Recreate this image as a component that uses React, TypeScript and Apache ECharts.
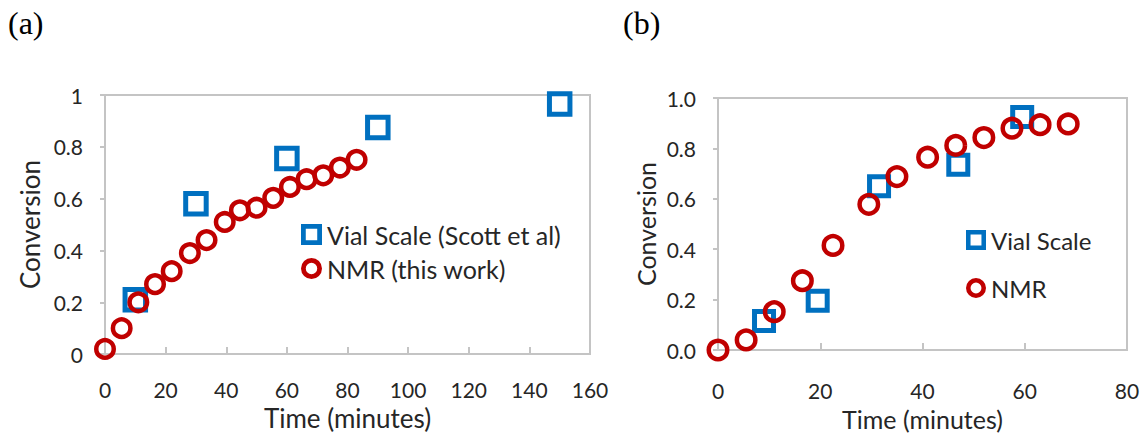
import React, { useEffect, useRef } from "react";
import * as echarts from "echarts";

// Panel (a): vial-scale reference vs. NMR monitoring
const vialTimeA = [10, 30, 60, 90, 150];
const vialConvA = [0.21, 0.58, 0.755, 0.875, 0.965];
const nmrTimeA = [0, 5.5, 11, 16.5, 22, 28, 33.5, 39.5, 44.5, 50, 55.5, 61, 66.5, 72, 77.5, 83];
const nmrConvA = [0.02, 0.1, 0.2, 0.27, 0.32, 0.39, 0.44, 0.51, 0.555, 0.565, 0.603, 0.645, 0.675, 0.69, 0.72, 0.75];

// Panel (b)
const vialTimeB = [9, 19.5, 31.5, 47, 59.5];
const vialConvB = [0.115, 0.195, 0.65, 0.735, 0.925];
const nmrTimeB = [0, 5.5, 11, 16.5, 22.5, 29.5, 35, 41, 46.5, 52, 57.5, 63, 68.5];
const nmrConvB = [0, 0.04, 0.152, 0.275, 0.415, 0.578, 0.688, 0.765, 0.812, 0.843, 0.88, 0.894, 0.897];

const seriesNames = {
  vialA: "Vial Scale (Scott et al)",
  nmrA: "NMR (this work)",
  vialB: "Vial Scale",
  nmrB: "NMR",
};

const BLUE = "#0070C0";
const RED = "#C00000";
const AXIS = "#c4c4c4";
const TEXT = "#262626";
const FONT = "Lato, 'Noto Sans', sans-serif";

// Legend keys drawn as filled outlines (outer shape minus a reversed inner shape)
const SQUARE_KEY = "path://M0 0H22V22H0Z M5 5V17H17V5Z";
const RING_KEY = "path://M11 0A11 11 0 1 1 11 22A11 11 0 1 1 11 0Z M11 5A6 6 0 1 0 11 17A6 6 0 1 0 11 5Z";

const zip = (xs: number[], ys: number[]) => xs.map((x, i) => [x, ys[i]]);

function axisPair(
  gridIndex: number,
  xMax: number,
  yFmt: (v: number) => string,
  xLabelMargin: number,
  xNameGap: number,
  yNameGap: number,
  nameSize: number
) {
  const x = {
    type: "value",
    gridIndex,
    min: 0,
    max: xMax,
    interval: 20,
    name: "Time (minutes)",
    nameLocation: "middle",
    nameGap: xNameGap,
    nameTextStyle: { fontFamily: FONT, fontSize: nameSize, color: TEXT },
    axisLine: { show: true, lineStyle: { color: AXIS, width: 2 } },
    axisTick: { show: true, inside: true, length: 7, lineStyle: { color: AXIS, width: 2 } },
    axisLabel: { fontFamily: FONT, fontSize: 21, color: TEXT, margin: xLabelMargin },
    splitLine: { show: false },
  };
  const y = {
    type: "value",
    gridIndex,
    min: 0,
    max: 1,
    interval: 0.2,
    name: "Conversion",
    nameLocation: "middle",
    nameGap: yNameGap,
    nameTextStyle: { fontFamily: FONT, fontSize: nameSize, color: TEXT },
    axisLine: { show: true, lineStyle: { color: AXIS, width: 2 } },
    axisTick: { show: true, inside: false, length: 5, lineStyle: { color: AXIS, width: 2 } },
    axisLabel: { fontFamily: FONT, fontSize: 21, color: TEXT, margin: 22, formatter: yFmt },
    splitLine: { show: false },
  };
  return { x, y };
}

export default function App() {
  const ref = useRef<HTMLDivElement>(null);

  useEffect(() => {
    if (!ref.current) return;
    const chart = echarts.init(ref.current, undefined, { renderer: "svg" });

    const a = axisPair(0, 160, (v) => String(v), 25, 42, 62, 26);
    const b = axisPair(1, 80, (v) => v.toFixed(1), 30, 56, 60, 25);

    const square = (color: string, size: number) => ({
      symbol: "rect",
      symbolSize: size,
      itemStyle: { color: "transparent", borderColor: color, borderWidth: 5, opacity: 1 },
    });
    const ring = (color: string, size: number) => ({
      symbol: "circle",
      symbolSize: size,
      itemStyle: { color: "transparent", borderColor: color, borderWidth: 4.5, opacity: 1 },
    });

    const legendItem = (name: string, icon: string, color: string) => ({
      name,
      icon,
      itemStyle: { color, borderWidth: 0, opacity: 1 },
    });

    const panelTitle = { fontFamily: "'Liberation Serif', serif", fontSize: 32, fontWeight: "normal", color: "#000" };

    chart.setOption({
      animation: false,
      backgroundColor: "#ffffff",
      title: [
        { text: "(a)", left: 8, top: 7, padding: 0, textStyle: panelTitle },
        { text: "(b)", left: 623, top: 7, padding: 0, textStyle: panelTitle },
      ],
      grid: [
        { left: 105, top: 95, width: 485, height: 269, show: true, borderColor: AXIS, borderWidth: 2, containLabel: false },
        { left: 718, top: 98, width: 409, height: 258, show: true, borderColor: AXIS, borderWidth: 2, containLabel: false },
      ],
      xAxis: [a.x, b.x],
      yAxis: [a.y, b.y],
      legend: [
        {
          orient: "vertical",
          left: 301,
          top: 222,
          padding: 0,
          itemWidth: 21,
          itemHeight: 21,
          itemGap: 9,
          textStyle: { fontFamily: FONT, fontSize: 25, color: TEXT },
          data: [legendItem(seriesNames.vialA, SQUARE_KEY, BLUE), legendItem(seriesNames.nmrA, RING_KEY, RED)],
        },
        {
          orient: "vertical",
          left: 966,
          top: 228,
          padding: 0,
          itemWidth: 20,
          itemHeight: 20,
          itemGap: 24,
          textStyle: { fontFamily: FONT, fontSize: 24, color: TEXT },
          data: [legendItem(seriesNames.vialB, SQUARE_KEY, BLUE), legendItem(seriesNames.nmrB, RING_KEY, RED)],
        },
      ],
      series: [
        { type: "scatter", name: seriesNames.vialA, xAxisIndex: 0, yAxisIndex: 0, clip: false, data: zip(vialTimeA, vialConvA), ...square(BLUE, 20.5) },
        { type: "scatter", name: seriesNames.nmrA, xAxisIndex: 0, yAxisIndex: 0, clip: false, data: zip(nmrTimeA, nmrConvA), ...ring(RED, 17.5) },
        { type: "scatter", name: seriesNames.vialB, xAxisIndex: 1, yAxisIndex: 1, clip: false, data: zip(vialTimeB, vialConvB), ...square(BLUE, 19) },
        { type: "scatter", name: seriesNames.nmrB, xAxisIndex: 1, yAxisIndex: 1, clip: false, data: zip(nmrTimeB, nmrConvB), ...ring(RED, 18.5) },
      ],
    });

    return () => chart.dispose();
  }, []);

  return <div ref={ref} style={{ position: "fixed", left: 0, top: 0, width: 1146, height: 436 }} />;
}
